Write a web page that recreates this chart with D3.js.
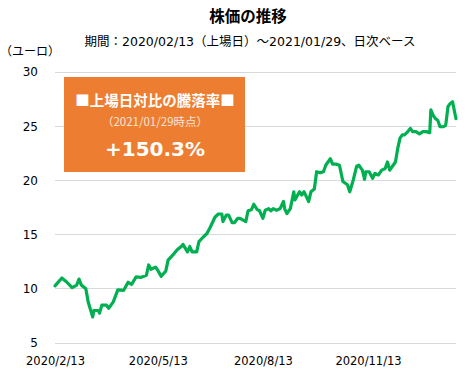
<!DOCTYPE html>
<html><head><meta charset="utf-8">
<script src="https://cdn.jsdelivr.net/npm/d3@7"></script>
<style>
html,body{margin:0;padding:0;background:#fff;}
svg{display:block;}
</style></head>
<body><svg id="c" width="467" height="377"></svg>
<script>
const dates = ["2020-02-13","2020-02-19","2020-02-23","2020-02-28","2020-03-03","2020-03-05","2020-03-07","2020-03-11","2020-03-13","2020-03-17","2020-03-18","2020-03-22","2020-03-23","2020-03-25","2020-03-29","2020-03-31","2020-04-04","2020-04-08","2020-04-13","2020-04-17","2020-04-20","2020-04-24","2020-04-28","2020-05-03","2020-05-05","2020-05-07","2020-05-11","2020-05-13","2020-05-16","2020-05-20","2020-05-22","2020-05-26","2020-05-30","2020-06-03","2020-06-04","2020-06-06","2020-06-08","2020-06-10","2020-06-12","2020-06-16","2020-06-18","2020-06-22","2020-06-25","2020-06-28","2020-07-02","2020-07-05","2020-07-08","2020-07-09","2020-07-12","2020-07-14","2020-07-17","2020-07-19","2020-07-22","2020-07-24","2020-07-29","2020-07-31","2020-08-03","2020-08-05","2020-08-08","2020-08-10","2020-08-13","2020-08-15","2020-08-18","2020-08-20","2020-08-22","2020-08-25","2020-08-28","2020-08-31","2020-09-01","2020-09-03","2020-09-06","2020-09-09","2020-09-10","2020-09-14","2020-09-16","2020-09-18","2020-09-20","2020-09-22","2020-09-24","2020-09-27","2020-09-29","2020-10-02","2020-10-05","2020-10-07","2020-10-09","2020-10-11","2020-10-13","2020-10-16","2020-10-19","2020-10-22","2020-10-26","2020-10-28","2020-10-31","2020-11-03","2020-11-05","2020-11-08","2020-11-10","2020-11-11","2020-11-14","2020-11-17","2020-11-19","2020-11-22","2020-11-25","2020-11-28","2020-11-30","2020-12-02","2020-12-05","2020-12-07","2020-12-09","2020-12-11","2020-12-13","2020-12-15","2020-12-17","2020-12-20","2020-12-22","2020-12-25","2020-12-28","2020-12-31","2021-01-03","2021-01-06","2021-01-07","2021-01-09","2021-01-11","2021-01-13","2021-01-15","2021-01-18","2021-01-20","2021-01-22","2021-01-24","2021-01-26","2021-01-28","2021-01-29"];
const prices = [10.27,11.0,10.65,10.1,10.35,10.9,10.35,10.0,8.8,7.4,8.0,8.0,7.75,8.5,8.5,8.2,8.8,9.9,9.85,10.6,10.4,11.1,11.05,11.25,12.2,11.8,12.0,11.7,11.15,11.65,12.65,13.1,13.6,13.95,14.1,13.75,13.4,13.9,13.4,13.4,14.35,14.8,15.1,15.7,16.6,16.9,16.9,16.2,16.8,16.8,16.1,16.1,16.5,16.5,16.2,17.2,17.3,17.8,17.3,17.2,16.5,17.25,17.4,17.2,17.4,17.25,17.4,18.05,17.4,16.95,17.4,18.95,18.2,18.95,18.65,18.95,18.5,18.05,18.95,19.2,20.8,20.7,20.8,21.4,21.7,22.0,21.5,21.5,21.4,19.9,19.6,18.95,20.0,21.3,21.4,20.95,20.1,20.8,20.8,20.2,20.65,20.5,20.95,21.1,21.7,20.95,21.4,21.7,22.95,23.9,24.2,24.2,24.4,24.8,24.5,24.5,24.3,24.5,24.5,24.4,26.5,26.0,25.7,25.55,24.95,24.95,25.1,26.8,27.1,27.25,26.2,25.7];
const yTicks = [5,10,15,20,25,30];
const xTickDates = ["2020-02-13","2020-05-13","2020-08-13","2020-11-13"];
const xTickLabels = ["2020/2/13","2020/5/13","2020/8/13","2020/11/13"];
const title = "株価の推移";
const subtitle = "期間：2020/02/13（上場日）～2021/01/29、日次ベース";
const unitLabel = "（ユーロ）";
const boxLines = ["■上場日対比の騰落率■","（2021/01/29時点）","+150.3%"];

const parse = d3.timeParse("%Y-%m-%d");
const data = dates.map((d,i)=>({date:parse(d), v:prices[i]}));
const svg = d3.select("#c");
const FONT = "'DejaVu Sans','Noto Sans CJK JP',sans-serif";
const JFONT = "'Noto Sans CJK JP','DejaVu Sans',sans-serif";

const x = d3.scaleTime().domain([parse(dates[0]), parse(dates[dates.length-1])]).range([55,456]);
const y = d3.scaleLinear().domain([5,30]).range([343,72]);

// grid
svg.append("g").selectAll("line").data(yTicks).join("line")
  .attr("x1",55).attr("x2",456)
  .attr("y1",d=>y(d)).attr("y2",d=>y(d))
  .attr("stroke","#d9d9d9").attr("stroke-width",1).attr("shape-rendering","crispEdges");

// y axis labels
const yAxis = d3.axisLeft(y).tickValues(yTicks).tickSize(0).tickPadding(0);
const gy = svg.append("g").attr("transform","translate(38,0)").call(yAxis);
gy.select(".domain").remove();
gy.selectAll("text").attr("font-family",FONT).attr("font-size","12px").attr("fill","#000");

// x axis labels
const xAxis = d3.axisBottom(x).tickValues(xTickDates.map(parse)).tickFormat((d,i)=>xTickLabels[i]).tickSize(0).tickPadding(0);
const gx = svg.append("g").attr("transform","translate(0,357)").call(xAxis);
gx.select(".domain").remove();
gx.selectAll("text").attr("font-family",FONT).attr("font-size","11.5px").attr("fill","#000");

// line
const line = d3.line().x(d=>x(d.date)).y(d=>y(d.v)).curve(d3.curveLinear);
svg.append("path").datum(data).attr("d",line)
  .attr("fill","none").attr("stroke","#00b050").attr("stroke-width",3.2)
  .attr("stroke-linejoin","round").attr("stroke-linecap","round");

// title
svg.append("text").attr("x",248).attr("y",22).attr("text-anchor","middle")
  .attr("font-family",JFONT).attr("font-weight","bold").attr("font-size","15.5px").attr("fill","#000").text(title);
svg.append("text").attr("x",250).attr("y",46).attr("text-anchor","middle")
  .attr("font-family",FONT).attr("font-size","12.5px").attr("fill","#000").text(subtitle);
svg.append("text").attr("x",0).attr("y",56)
  .attr("font-family",JFONT).attr("font-size","12px").attr("fill","#000").text(unitLabel);

// box
svg.append("rect").attr("x",64).attr("y",77).attr("width",181).attr("height",95).attr("fill","#ed7d31");
svg.append("text").attr("x",155).attr("y",106).attr("text-anchor","middle")
  .attr("font-family",JFONT).attr("font-weight","bold").attr("font-size","14.5px").attr("fill","#fff").text(boxLines[0]);
svg.append("text").attr("x",155).attr("y",126).attr("text-anchor","middle")
  .attr("font-family",JFONT).attr("font-size","11.5px").attr("fill","#fbe5d6").text(boxLines[1]);
svg.append("text").attr("x",155).attr("y",156).attr("text-anchor","middle")
  .attr("font-family",FONT).attr("font-weight","bold").attr("font-size","20px").attr("fill","#fff").text(boxLines[2]);
</script></body></html>
